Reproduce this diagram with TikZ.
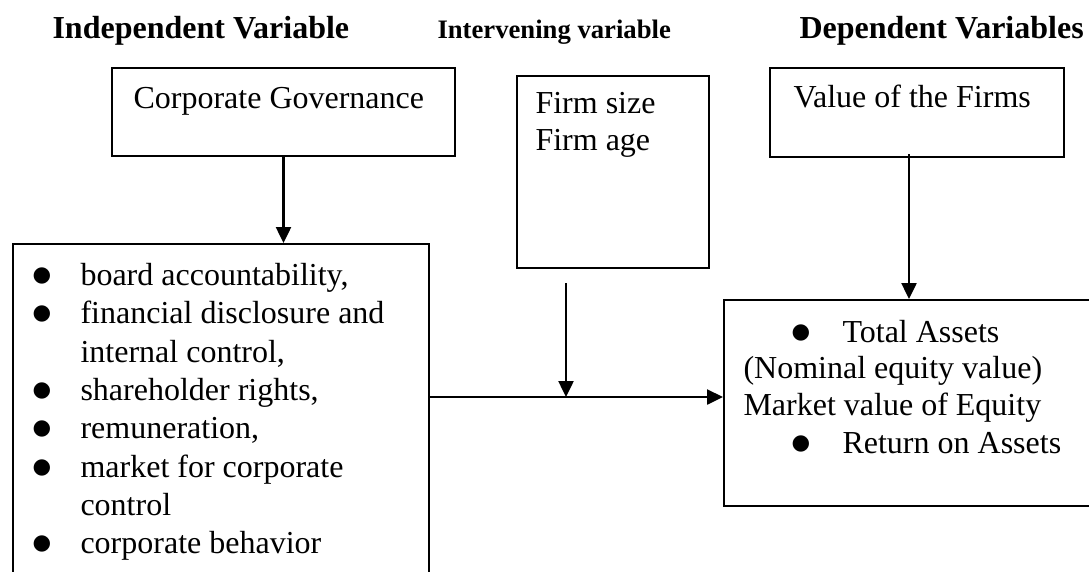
\documentclass[tikz,border=0pt]{standalone}
\usepackage{fontspec}
\setmainfont{Liberation Serif}
\newfontfamily\bulfont{DejaVu Sans}
\usetikzlibrary{arrows.meta}
\begin{document}
\begin{tikzpicture}[x=0.375pt,y=-0.375pt,
  box/.style={draw,line width=0.75pt,rectangle,inner sep=0pt,anchor=north west},
  txt/.style={anchor=base west,inner sep=0pt,font=\fontsize{12}{14}\selectfont},
  bul/.style={anchor=base west,inner sep=0pt,font=\bulfont\fontsize{8}{9}\selectfont},
  head/.style={anchor=base west,inner sep=0pt,font=\fontsize{12}{14}\selectfont\bfseries},
  smallhead/.style={anchor=base west,inner sep=0pt,font=\fontsize{10}{12}\selectfont\bfseries},
  arr/.style={line width=1pt,-{Triangle[length=6pt,width=5.6pt]}}]
\useasboundingbox (0,0) rectangle (1089,571);
\clip (0,0) rectangle (1089,571);

% headers
\node[head] (hind) at (52,38) {Independent Variable};
\node[smallhead] (hint) at (437,38) {Intervening variable};
\node[head] (hdep) at (799,38) {Dependent Variables};

% boxes
\node[box,minimum width={343*0.375pt},minimum height={88*0.375pt}] (cg) at (111,67) {};
\node[box,minimum width={192*0.375pt},minimum height={192*0.375pt}] (firm) at (516,75) {};
\node[box,minimum width={294*0.375pt},minimum height={89*0.375pt}] (value) at (769,67) {};
\node[box,minimum width={416*0.375pt},minimum height={360*0.375pt}] (list) at (12,243) {};
\node[box,minimum width={400*0.375pt},minimum height={206*0.375pt}] (dep) at (723,299) {};

% box texts
\node[txt] (cgt) at (133,108) {Corporate Governance};
\node[txt] (f1) at (535,113) {Firm size};
\node[txt] (f2) at (535,150) {Firm age};
\node[txt] (vt) at (793,107) {Value of the Firms};

\node[bul] (b1) at (32,281) {●};
\node[txt] (l1) at (80,285) {board accountability,};
\node[bul] (b2) at (32,319) {●};
\node[txt] (l2) at (80,323) {financial disclosure and};
\node[txt] (l3) at (80,362) {internal control,};
\node[bul] (b4) at (32,396) {●};
\node[txt] (l4) at (80,400) {shareholder rights,};
\node[bul] (b5) at (32,434) {●};
\node[txt] (l5) at (80,438) {remuneration,};
\node[bul] (b6) at (32,473) {●};
\node[txt] (l6) at (80,477) {market for corporate};
\node[txt] (l7) at (80,515) {control};
\node[bul] (b8) at (32,549) {●};
\node[txt] (l8) at (80,553) {corporate behavior};

\node[bul] (db1) at (791,338) {●};
\node[txt] (d1) at (842,342) {Total Assets};
\node[txt] (d2) at (743,378) {(Nominal equity value)};
\node[txt] (d3) at (743,415) {Market value of Equity};
\node[bul] (db4) at (791,449) {●};
\node[txt] (d4) at (842,453) {Return on Assets};

% connectors
\coordinate (va) at (909,154);
\coordinate (fa) at (566,283);
\coordinate (j) at (566,397);
\draw[arr] (cg.south) -- (cg.south |- list.north);
\draw[arr] (va) -- (va |- dep.north);
\draw[arr] (fa) -- (j);
\draw[arr] (list.east |- j) -- (dep.west |- j);
\end{tikzpicture}
\end{document}
